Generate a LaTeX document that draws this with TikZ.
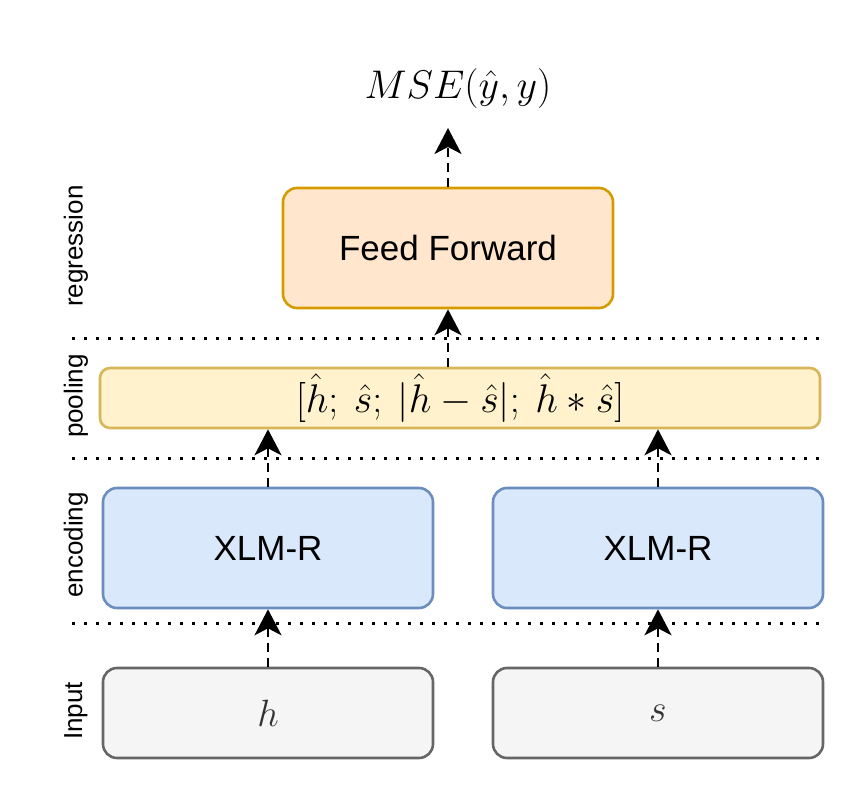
\RequirePackage{fix-cm}
\documentclass[tikz,border=0pt]{standalone}
\usepackage[no-math]{fontspec}
\setmainfont{Liberation Sans}
\usetikzlibrary{arrows.meta}
\definecolor{ffFill}{HTML}{FFE6CC}\definecolor{ffLine}{HTML}{D79B00}
\definecolor{plFill}{HTML}{FFF2CC}\definecolor{plLine}{HTML}{D6B656}
\definecolor{xlFill}{HTML}{DAE8FC}\definecolor{xlLine}{HTML}{6C8EBF}
\definecolor{inFill}{HTML}{F5F5F5}\definecolor{inLine}{HTML}{666666}
\definecolor{inText}{HTML}{333333}
\tikzset{
  box/.style={draw, line width=2.6pt, rounded corners=14pt, inner sep=0pt, minimum width=330pt, minimum height=120pt},
  ffbox/.style={box, fill=ffFill, draw=ffLine, font=\fontsize{35}{42}\selectfont},
  xlbox/.style={box, fill=xlFill, draw=xlLine, font=\fontsize{35}{42}\selectfont},
  inbox/.style={box, minimum height=90pt, fill=inFill, draw=inLine, text=inText, font=\fontsize{38}{44}\selectfont},
  plbox/.style={box, rounded corners=10pt, minimum width=720pt, minimum height=60pt, fill=plFill, draw=plLine, font=\fontsize{40}{46}\selectfont},
  side/.style={rotate=90, font=\fontsize{26}{30}\selectfont, inner sep=0pt},
  arr/.style={line width=2.6pt, dash pattern=on 9pt off 6pt, -{Stealth[length=26pt, width=27pt, inset=7pt]}},
  sep/.style={line width=3pt, dash pattern=on 3pt off 9pt},
}
\begin{document}
\begin{tikzpicture}[x=1pt, y=-1pt]
\useasboundingbox (0,0) rectangle (862,810);
\node[ffbox] (ff) at (448,248) {Feed Forward};
\node[plbox] (pool) at (460,398) {$[\hat{h};\mskip4mu\hat{s};\mskip4mu\mathopen|\hat{h}-\hat{s}\mathclose|;\mskip4mu\hat{h}*\hat{s}]$};
\node[xlbox] (xlL) at (268,548) {XLM-R};
\node[xlbox] (xlR) at (658,548) {XLM-R};
\node[inbox] (inL) at (268,713) {$h$};
\node[inbox] (inR) at (658,713) {$s$};
\node[font=\fontsize{40}{46}\selectfont, inner sep=0pt] (mse) at (458,89) {$MSE(\hat{y},y)$};
\coordinate (mseT) at (448,128);
\node[side] (lreg) at (76,246) {regression};
\node[side] (lpool) at (76,396) {pooling};
\node[side] (lenc) at (76,545) {encoding};
\node[side] (lin) at (76,711) {Input};
\foreach \y/\n in {338/a,458/b,623/c}{
  \coordinate (s\n1) at (72,\y); \coordinate (s\n2) at (820,\y);
  \draw[sep] (s\n1) -- (s\n2);
}
\draw[arr] (inL.north) -- (xlL.south);
\draw[arr] (inR.north) -- (xlR.south);
\draw[arr] (xlL.north) -- (xlL.north |- pool.south);
\draw[arr] (xlR.north) -- (xlR.north |- pool.south);
\draw[arr] (ff.south |- pool.north) -- (ff.south);
\draw[arr] (ff.north) -- (mseT);
\end{tikzpicture}
\end{document}
